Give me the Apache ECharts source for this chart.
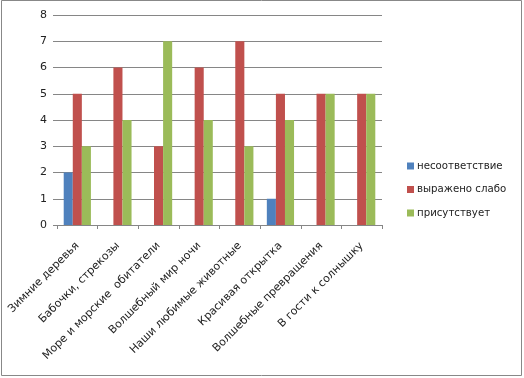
<!DOCTYPE html>
<html><head><meta charset="utf-8">
<script src="https://cdn.jsdelivr.net/npm/echarts@6/dist/echarts.min.js"></script>
<style>html,body{margin:0;padding:0;background:#fff}#c{width:524px;height:378px}</style>
</head><body><div id="c"></div>
<script>
const categories = ["Зимние деревья","Бабочки, стрекозы","Море и морские  обитатели","Волшебный мир ночи","Наши любимые животные","Красивая открытка","Волшебные превращения","В гости к солнышку"];
const seriesNames = ["несоответствие","выражено слабо","присутствует"];
const nesootv = [2,0,0,0,0,1,0,0];
const slabo = [5,6,3,6,7,5,5,5];
const prisut = [3,4,7,4,3,4,5,5];
const colors = ["#4F81BD","#C0504D","#9BBB59"];
const font = "DejaVu Sans";
const chart = echarts.init(document.getElementById('c'), null, {renderer:'canvas'});
chart.setOption({
  animation:false,
  backgroundColor:'#fff',
  color: colors,
  graphic:[{type:'rect',shape:{x:1.5,y:0.5,width:520,height:375},style:{fill:'none',stroke:'#888',lineWidth:1}}],
  grid:{left:57,right:142,top:15,bottom:153},
  legend:{orient:'vertical',left:402,top:156,itemWidth:7,itemHeight:7,itemGap:13.5,icon:'rect',
    textStyle:{fontFamily:font,fontSize:10.2,color:'#222',padding:[0,0,0,-2]},data:seriesNames},
  xAxis:{type:'category',data:categories,
    axisLine:{lineStyle:{color:'#868686'}},
    axisTick:{show:true,alignWithLabel:false,length:4,lineStyle:{color:'#868686'}},
    axisLabel:{interval:0,rotate:45,margin:19,fontFamily:font,fontSize:11,color:'#222'}},
  yAxis:{type:'value',min:0,max:8,interval:1,
    axisLine:{show:false},
    axisTick:{show:true,length:4,lineStyle:{color:'#868686'}},
    splitLine:{lineStyle:{color:'#868686'}},
    axisLabel:{margin:10,fontFamily:font,fontSize:11,color:'#222'}},
  series:[
    {name:seriesNames[0],type:'bar',data:nesootv,barGap:'0%',barCategoryGap:'33%'},
    {name:seriesNames[1],type:'bar',data:slabo,barGap:'0%',barCategoryGap:'33%'},
    {name:seriesNames[2],type:'bar',data:prisut,barGap:'0%',barCategoryGap:'33%'}
  ]
});
</script></body></html>
